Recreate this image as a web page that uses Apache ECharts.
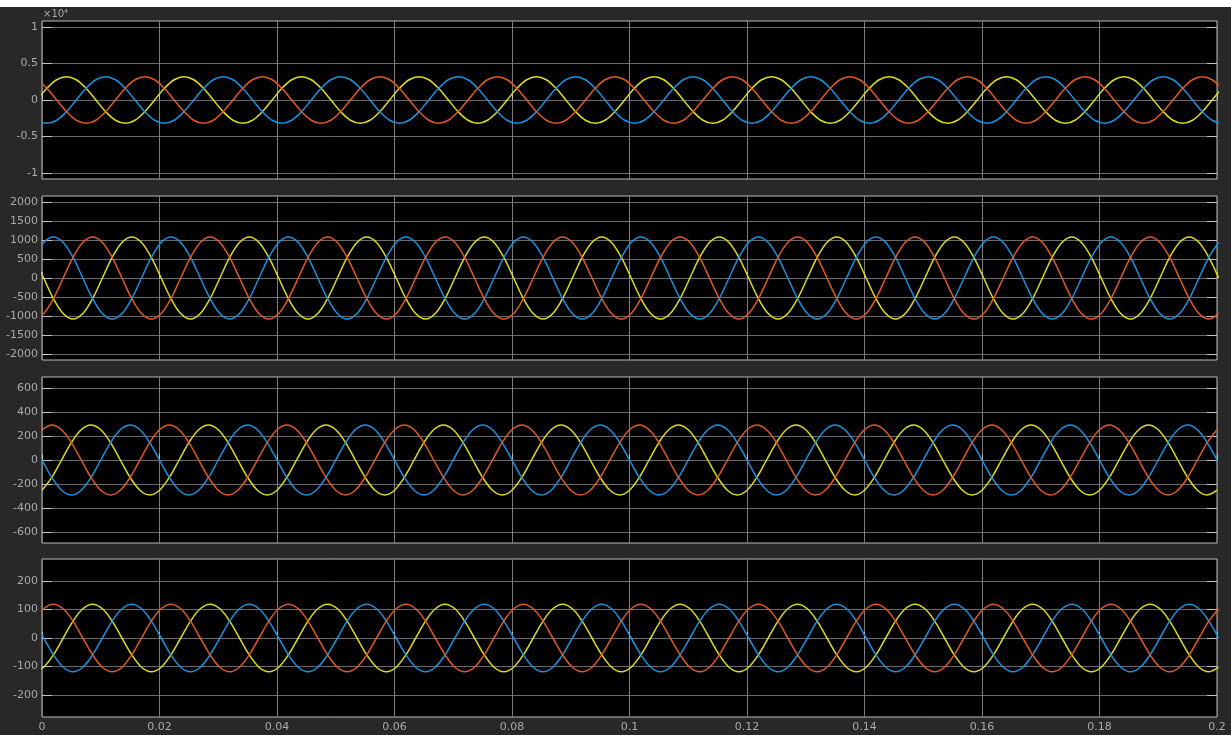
<!DOCTYPE html>
<html>
<head>
<meta charset="utf-8">
<script src="https://cdn.jsdelivr.net/npm/echarts@6/dist/echarts.min.js"></script>
<style>
  html, body { margin: 0; padding: 0; background: #282828; }
  #chart { width: 1231px; height: 735px; }
</style>
</head>
<body>
<div id="chart"></div>
<script>
// sample times (s), 12 samples per 50 Hz cycle, one set per panel
const timeA = [
  -0.00083,
  0.00083, 0.0025, 0.00417, 0.00583, 0.0075, 0.00917, 0.01083, 0.0125, 0.01417, 0.01583, 0.0175, 0.01917,
  0.02083, 0.0225, 0.02417, 0.02583, 0.0275, 0.02917, 0.03083, 0.0325, 0.03417, 0.03583, 0.0375, 0.03917,
  0.04083, 0.0425, 0.04417, 0.04583, 0.0475, 0.04917, 0.05083, 0.0525, 0.05417, 0.05583, 0.0575, 0.05917,
  0.06083, 0.0625, 0.06417, 0.06583, 0.0675, 0.06917, 0.07083, 0.0725, 0.07417, 0.07583, 0.0775, 0.07917,
  0.08083, 0.0825, 0.08417, 0.08583, 0.0875, 0.08917, 0.09083, 0.0925, 0.09417, 0.09583, 0.0975, 0.09917,
  0.10083, 0.1025, 0.10417, 0.10583, 0.1075, 0.10917, 0.11083, 0.1125, 0.11417, 0.11583, 0.1175, 0.11917,
  0.12083, 0.1225, 0.12417, 0.12583, 0.1275, 0.12917, 0.13083, 0.1325, 0.13417, 0.13583, 0.1375, 0.13917,
  0.14083, 0.1425, 0.14417, 0.14583, 0.1475, 0.14917, 0.15083, 0.1525, 0.15417, 0.15583, 0.1575, 0.15917,
  0.16083, 0.1625, 0.16417, 0.16583, 0.1675, 0.16917, 0.17083, 0.1725, 0.17417, 0.17583, 0.1775, 0.17917,
  0.18083, 0.1825, 0.18417, 0.18583, 0.1875, 0.18917, 0.19083, 0.1925, 0.19417, 0.19583, 0.1975, 0.19917,
  0.20083
];
const timeB = [
  -0.00139,
  0.00028, 0.00194, 0.00361, 0.00528, 0.00694, 0.00861, 0.01028, 0.01194, 0.01361, 0.01528, 0.01694, 0.01861,
  0.02028, 0.02194, 0.02361, 0.02528, 0.02694, 0.02861, 0.03028, 0.03194, 0.03361, 0.03528, 0.03694, 0.03861,
  0.04028, 0.04194, 0.04361, 0.04528, 0.04694, 0.04861, 0.05028, 0.05194, 0.05361, 0.05528, 0.05694, 0.05861,
  0.06028, 0.06194, 0.06361, 0.06528, 0.06694, 0.06861, 0.07028, 0.07194, 0.07361, 0.07528, 0.07694, 0.07861,
  0.08028, 0.08194, 0.08361, 0.08528, 0.08694, 0.08861, 0.09028, 0.09194, 0.09361, 0.09528, 0.09694, 0.09861,
  0.10028, 0.10194, 0.10361, 0.10528, 0.10694, 0.10861, 0.11028, 0.11194, 0.11361, 0.11528, 0.11694, 0.11861,
  0.12028, 0.12194, 0.12361, 0.12528, 0.12694, 0.12861, 0.13028, 0.13194, 0.13361, 0.13528, 0.13694, 0.13861,
  0.14028, 0.14194, 0.14361, 0.14528, 0.14694, 0.14861, 0.15028, 0.15194, 0.15361, 0.15528, 0.15694, 0.15861,
  0.16028, 0.16194, 0.16361, 0.16528, 0.16694, 0.16861, 0.17028, 0.17194, 0.17361, 0.17528, 0.17694, 0.17861,
  0.18028, 0.18194, 0.18361, 0.18528, 0.18694, 0.18861, 0.19028, 0.19194, 0.19361, 0.19528, 0.19694, 0.19861,
  0.20028
];
const timeC = [
  0, 0.00167, 0.00333, 0.005, 0.00667, 0.00833, 0.01, 0.01167, 0.01333, 0.015, 0.01667, 0.01833,
  0.02, 0.02167, 0.02333, 0.025, 0.02667, 0.02833, 0.03, 0.03167, 0.03333, 0.035, 0.03667, 0.03833,
  0.04, 0.04167, 0.04333, 0.045, 0.04667, 0.04833, 0.05, 0.05167, 0.05333, 0.055, 0.05667, 0.05833,
  0.06, 0.06167, 0.06333, 0.065, 0.06667, 0.06833, 0.07, 0.07167, 0.07333, 0.075, 0.07667, 0.07833,
  0.08, 0.08167, 0.08333, 0.085, 0.08667, 0.08833, 0.09, 0.09167, 0.09333, 0.095, 0.09667, 0.09833,
  0.1, 0.10167, 0.10333, 0.105, 0.10667, 0.10833, 0.11, 0.11167, 0.11333, 0.115, 0.11667, 0.11833,
  0.12, 0.12167, 0.12333, 0.125, 0.12667, 0.12833, 0.13, 0.13167, 0.13333, 0.135, 0.13667, 0.13833,
  0.14, 0.14167, 0.14333, 0.145, 0.14667, 0.14833, 0.15, 0.15167, 0.15333, 0.155, 0.15667, 0.15833,
  0.16, 0.16167, 0.16333, 0.165, 0.16667, 0.16833, 0.17, 0.17167, 0.17333, 0.175, 0.17667, 0.17833,
  0.18, 0.18167, 0.18333, 0.185, 0.18667, 0.18833, 0.19, 0.19167, 0.19333, 0.195, 0.19667, 0.19833,
  0.2
];

// panel 1 (x10^4), sampled at timeA
const p1Yellow = [
  0,
  1600, 2771, 3200, 2771, 1600, 0, -1600, -2771, -3200, -2771, -1600, 0,
  1600, 2771, 3200, 2771, 1600, 0, -1600, -2771, -3200, -2771, -1600, 0,
  1600, 2771, 3200, 2771, 1600, 0, -1600, -2771, -3200, -2771, -1600, 0,
  1600, 2771, 3200, 2771, 1600, 0, -1600, -2771, -3200, -2771, -1600, 0,
  1600, 2771, 3200, 2771, 1600, 0, -1600, -2771, -3200, -2771, -1600, 0,
  1600, 2771, 3200, 2771, 1600, 0, -1600, -2771, -3200, -2771, -1600, 0,
  1600, 2771, 3200, 2771, 1600, 0, -1600, -2771, -3200, -2771, -1600, 0,
  1600, 2771, 3200, 2771, 1600, 0, -1600, -2771, -3200, -2771, -1600, 0,
  1600, 2771, 3200, 2771, 1600, 0, -1600, -2771, -3200, -2771, -1600, 0,
  1600, 2771, 3200, 2771, 1600, 0, -1600, -2771, -3200, -2771, -1600, 0,
  1600
];
const p1Blue = [
  -2771,
  -3200, -2771, -1600, 0, 1600, 2771, 3200, 2771, 1600, 0, -1600, -2771,
  -3200, -2771, -1600, 0, 1600, 2771, 3200, 2771, 1600, 0, -1600, -2771,
  -3200, -2771, -1600, 0, 1600, 2771, 3200, 2771, 1600, 0, -1600, -2771,
  -3200, -2771, -1600, 0, 1600, 2771, 3200, 2771, 1600, 0, -1600, -2771,
  -3200, -2771, -1600, 0, 1600, 2771, 3200, 2771, 1600, 0, -1600, -2771,
  -3200, -2771, -1600, 0, 1600, 2771, 3200, 2771, 1600, 0, -1600, -2771,
  -3200, -2771, -1600, 0, 1600, 2771, 3200, 2771, 1600, 0, -1600, -2771,
  -3200, -2771, -1600, 0, 1600, 2771, 3200, 2771, 1600, 0, -1600, -2771,
  -3200, -2771, -1600, 0, 1600, 2771, 3200, 2771, 1600, 0, -1600, -2771,
  -3200, -2771, -1600, 0, 1600, 2771, 3200, 2771, 1600, 0, -1600, -2771,
  -3200
];
const p1Red = [
  2771,
  1600, 0, -1600, -2771, -3200, -2771, -1600, 0, 1600, 2771, 3200, 2771,
  1600, 0, -1600, -2771, -3200, -2771, -1600, 0, 1600, 2771, 3200, 2771,
  1600, 0, -1600, -2771, -3200, -2771, -1600, 0, 1600, 2771, 3200, 2771,
  1600, 0, -1600, -2771, -3200, -2771, -1600, 0, 1600, 2771, 3200, 2771,
  1600, 0, -1600, -2771, -3200, -2771, -1600, 0, 1600, 2771, 3200, 2771,
  1600, 0, -1600, -2771, -3200, -2771, -1600, 0, 1600, 2771, 3200, 2771,
  1600, 0, -1600, -2771, -3200, -2771, -1600, 0, 1600, 2771, 3200, 2771,
  1600, 0, -1600, -2771, -3200, -2771, -1600, 0, 1600, 2771, 3200, 2771,
  1600, 0, -1600, -2771, -3200, -2771, -1600, 0, 1600, 2771, 3200, 2771,
  1600, 0, -1600, -2771, -3200, -2771, -1600, 0, 1600, 2771, 3200, 2771,
  1600
];

// panel 2, sampled at timeB
const p2Yellow = [
  540,
  0, -540, -935, -1080, -935, -540, 0, 540, 935, 1080, 935, 540,
  0, -540, -935, -1080, -935, -540, 0, 540, 935, 1080, 935, 540,
  0, -540, -935, -1080, -935, -540, 0, 540, 935, 1080, 935, 540,
  0, -540, -935, -1080, -935, -540, 0, 540, 935, 1080, 935, 540,
  0, -540, -935, -1080, -935, -540, 0, 540, 935, 1080, 935, 540,
  0, -540, -935, -1080, -935, -540, 0, 540, 935, 1080, 935, 540,
  0, -540, -935, -1080, -935, -540, 0, 540, 935, 1080, 935, 540,
  0, -540, -935, -1080, -935, -540, 0, 540, 935, 1080, 935, 540,
  0, -540, -935, -1080, -935, -540, 0, 540, 935, 1080, 935, 540,
  0, -540, -935, -1080, -935, -540, 0, 540, 935, 1080, 935, 540,
  0
];
const p2Blue = [
  540,
  935, 1080, 935, 540, 0, -540, -935, -1080, -935, -540, 0, 540,
  935, 1080, 935, 540, 0, -540, -935, -1080, -935, -540, 0, 540,
  935, 1080, 935, 540, 0, -540, -935, -1080, -935, -540, 0, 540,
  935, 1080, 935, 540, 0, -540, -935, -1080, -935, -540, 0, 540,
  935, 1080, 935, 540, 0, -540, -935, -1080, -935, -540, 0, 540,
  935, 1080, 935, 540, 0, -540, -935, -1080, -935, -540, 0, 540,
  935, 1080, 935, 540, 0, -540, -935, -1080, -935, -540, 0, 540,
  935, 1080, 935, 540, 0, -540, -935, -1080, -935, -540, 0, 540,
  935, 1080, 935, 540, 0, -540, -935, -1080, -935, -540, 0, 540,
  935, 1080, 935, 540, 0, -540, -935, -1080, -935, -540, 0, 540,
  935
];
const p2Red = [
  -1080,
  -935, -540, 0, 540, 935, 1080, 935, 540, 0, -540, -935, -1080,
  -935, -540, 0, 540, 935, 1080, 935, 540, 0, -540, -935, -1080,
  -935, -540, 0, 540, 935, 1080, 935, 540, 0, -540, -935, -1080,
  -935, -540, 0, 540, 935, 1080, 935, 540, 0, -540, -935, -1080,
  -935, -540, 0, 540, 935, 1080, 935, 540, 0, -540, -935, -1080,
  -935, -540, 0, 540, 935, 1080, 935, 540, 0, -540, -935, -1080,
  -935, -540, 0, 540, 935, 1080, 935, 540, 0, -540, -935, -1080,
  -935, -540, 0, 540, 935, 1080, 935, 540, 0, -540, -935, -1080,
  -935, -540, 0, 540, 935, 1080, 935, 540, 0, -540, -935, -1080,
  -935, -540, 0, 540, 935, 1080, 935, 540, 0, -540, -935, -1080,
  -935
];

// panel 3, sampled at timeC
const p3Yellow = [
  -251, -145, 0, 145, 251, 290, 251, 145, 0, -145, -251, -290,
  -251, -145, 0, 145, 251, 290, 251, 145, 0, -145, -251, -290,
  -251, -145, 0, 145, 251, 290, 251, 145, 0, -145, -251, -290,
  -251, -145, 0, 145, 251, 290, 251, 145, 0, -145, -251, -290,
  -251, -145, 0, 145, 251, 290, 251, 145, 0, -145, -251, -290,
  -251, -145, 0, 145, 251, 290, 251, 145, 0, -145, -251, -290,
  -251, -145, 0, 145, 251, 290, 251, 145, 0, -145, -251, -290,
  -251, -145, 0, 145, 251, 290, 251, 145, 0, -145, -251, -290,
  -251, -145, 0, 145, 251, 290, 251, 145, 0, -145, -251, -290,
  -251, -145, 0, 145, 251, 290, 251, 145, 0, -145, -251, -290,
  -251
];
const p3Blue = [
  0, -145, -251, -290, -251, -145, 0, 145, 251, 290, 251, 145,
  0, -145, -251, -290, -251, -145, 0, 145, 251, 290, 251, 145,
  0, -145, -251, -290, -251, -145, 0, 145, 251, 290, 251, 145,
  0, -145, -251, -290, -251, -145, 0, 145, 251, 290, 251, 145,
  0, -145, -251, -290, -251, -145, 0, 145, 251, 290, 251, 145,
  0, -145, -251, -290, -251, -145, 0, 145, 251, 290, 251, 145,
  0, -145, -251, -290, -251, -145, 0, 145, 251, 290, 251, 145,
  0, -145, -251, -290, -251, -145, 0, 145, 251, 290, 251, 145,
  0, -145, -251, -290, -251, -145, 0, 145, 251, 290, 251, 145,
  0, -145, -251, -290, -251, -145, 0, 145, 251, 290, 251, 145,
  0
];
const p3Red = [
  251, 290, 251, 145, 0, -145, -251, -290, -251, -145, 0, 145,
  251, 290, 251, 145, 0, -145, -251, -290, -251, -145, 0, 145,
  251, 290, 251, 145, 0, -145, -251, -290, -251, -145, 0, 145,
  251, 290, 251, 145, 0, -145, -251, -290, -251, -145, 0, 145,
  251, 290, 251, 145, 0, -145, -251, -290, -251, -145, 0, 145,
  251, 290, 251, 145, 0, -145, -251, -290, -251, -145, 0, 145,
  251, 290, 251, 145, 0, -145, -251, -290, -251, -145, 0, 145,
  251, 290, 251, 145, 0, -145, -251, -290, -251, -145, 0, 145,
  251, 290, 251, 145, 0, -145, -251, -290, -251, -145, 0, 145,
  251, 290, 251, 145, 0, -145, -251, -290, -251, -145, 0, 145,
  251
];

// panel 4, sampled at timeB
const p4Yellow = [
  -118,
  -102, -59, 0, 59, 102, 118, 102, 59, 0, -59, -102, -118,
  -102, -59, 0, 59, 102, 118, 102, 59, 0, -59, -102, -118,
  -102, -59, 0, 59, 102, 118, 102, 59, 0, -59, -102, -118,
  -102, -59, 0, 59, 102, 118, 102, 59, 0, -59, -102, -118,
  -102, -59, 0, 59, 102, 118, 102, 59, 0, -59, -102, -118,
  -102, -59, 0, 59, 102, 118, 102, 59, 0, -59, -102, -118,
  -102, -59, 0, 59, 102, 118, 102, 59, 0, -59, -102, -118,
  -102, -59, 0, 59, 102, 118, 102, 59, 0, -59, -102, -118,
  -102, -59, 0, 59, 102, 118, 102, 59, 0, -59, -102, -118,
  -102, -59, 0, 59, 102, 118, 102, 59, 0, -59, -102, -118,
  -102
];
const p4Blue = [
  59,
  0, -59, -102, -118, -102, -59, 0, 59, 102, 118, 102, 59,
  0, -59, -102, -118, -102, -59, 0, 59, 102, 118, 102, 59,
  0, -59, -102, -118, -102, -59, 0, 59, 102, 118, 102, 59,
  0, -59, -102, -118, -102, -59, 0, 59, 102, 118, 102, 59,
  0, -59, -102, -118, -102, -59, 0, 59, 102, 118, 102, 59,
  0, -59, -102, -118, -102, -59, 0, 59, 102, 118, 102, 59,
  0, -59, -102, -118, -102, -59, 0, 59, 102, 118, 102, 59,
  0, -59, -102, -118, -102, -59, 0, 59, 102, 118, 102, 59,
  0, -59, -102, -118, -102, -59, 0, 59, 102, 118, 102, 59,
  0, -59, -102, -118, -102, -59, 0, 59, 102, 118, 102, 59,
  0
];
const p4Red = [
  59,
  102, 118, 102, 59, 0, -59, -102, -118, -102, -59, 0, 59,
  102, 118, 102, 59, 0, -59, -102, -118, -102, -59, 0, 59,
  102, 118, 102, 59, 0, -59, -102, -118, -102, -59, 0, 59,
  102, 118, 102, 59, 0, -59, -102, -118, -102, -59, 0, 59,
  102, 118, 102, 59, 0, -59, -102, -118, -102, -59, 0, 59,
  102, 118, 102, 59, 0, -59, -102, -118, -102, -59, 0, 59,
  102, 118, 102, 59, 0, -59, -102, -118, -102, -59, 0, 59,
  102, 118, 102, 59, 0, -59, -102, -118, -102, -59, 0, 59,
  102, 118, 102, 59, 0, -59, -102, -118, -102, -59, 0, 59,
  102, 118, 102, 59, 0, -59, -102, -118, -102, -59, 0, 59,
  102
];

// y tick values for each panel
const p1Ticks = [-10000, -5000, 0, 5000, 10000];
const p2Ticks = [-2000, -1500, -1000, -500, 0, 500, 1000, 1500, 2000];
const p3Ticks = [-600, -400, -200, 0, 200, 400, 600];
const p4Ticks = [-200, -100, 0, 100, 200];
const yLimits = [10820, 2155, 690, 276];

const panelTimes = [timeA, timeB, timeC, timeB];
const panelSeries = [
  [p1Yellow, p1Blue, p1Red],
  [p2Yellow, p2Blue, p2Red],
  [p3Yellow, p3Blue, p3Red],
  [p4Yellow, p4Blue, p4Red]
];
const panelTicks = [p1Ticks, p2Ticks, p3Ticks, p4Ticks];

const gridTops = [21, 196, 377, 559];
const gridHeights = [158, 164, 166, 158];
const lineColors = ["#dcdc1e", "#1892e0", "#de5a22"];
const labelColor = "#a9a9a9";
const labelFont = "DejaVu Sans";

const grids = gridTops.map((top, i) => ({
  left: 42,
  top: top,
  width: 1175,
  height: gridHeights[i],
  show: true,
  backgroundColor: "#000000",
  borderColor: "#bdbdbd",
  borderWidth: 1,
}));

const xAxes = gridTops.map((_, i) => ({
  type: "value",
  gridIndex: i,
  min: 0,
  max: 0.2,
  interval: 0.02,
  axisLine: { show: false },
  axisTick: { show: true, inside: true, length: 6, lineStyle: { color: "#bdbdbd" } },
  axisLabel: {
    show: i === 3,
    color: labelColor,
    fontFamily: labelFont,
    fontSize: 11,
    margin: 5,
    formatter: (v) => String(+v.toFixed(2)),
  },
  splitLine: { show: true, lineStyle: { color: "#7c7c7c", width: 1 } },
}));

const leftAxes = panelTicks.map((ticks, i) => ({
  type: "value",
  gridIndex: i,
  min: -yLimits[i],
  max: yLimits[i],
  axisLine: { show: false },
  axisTick: {
    show: true,
    inside: true,
    length: 10,
    customValues: ticks,
    lineStyle: { color: "#c4c4c4" },
  },
  axisLabel: {
    customValues: ticks,
    color: labelColor,
    fontFamily: labelFont,
    fontSize: 11,
    margin: 4,
    formatter: (v) => (i === 0 ? String(v / 10000) : String(v)),
  },
  splitLine: { show: true, lineStyle: { color: "#6a6a6a", width: 1 } },
}));

const rightAxes = panelTicks.map((ticks, i) => ({
  type: "value",
  gridIndex: i,
  position: "right",
  min: -yLimits[i],
  max: yLimits[i],
  axisLine: { show: false },
  axisTick: {
    show: true,
    inside: true,
    length: 10,
    customValues: ticks,
    lineStyle: { color: "#c4c4c4" },
  },
  axisLabel: { show: false },
  splitLine: { show: false },
}));

const series = [];
panelSeries.forEach((group, i) => {
  const t = panelTimes[i];
  group.forEach((values, j) => {
    series.push({
      type: "line",
      xAxisIndex: i,
      yAxisIndex: i,
      data: values.map((v, k) => [t[k], v]),
      showSymbol: false,
      smooth: 0.35,
      clip: true,
      lineStyle: { color: lineColors[j], width: 1.5 },
      z: 3 + j,
    });
  });
});

const chart = echarts.init(document.getElementById("chart"));
chart.setOption({
  animation: false,
  backgroundColor: "#282828",
  grid: grids,
  xAxis: xAxes,
  yAxis: leftAxes.concat(rightAxes),
  series: series,
  graphic: [
    {
      type: "rect",
      left: 0,
      top: 0,
      shape: { width: 1231, height: 7 },
      style: { fill: "#ffffff" },
    },
    {
      type: "text",
      left: 43,
      top: 9,
      style: { text: "×10⁴", fill: labelColor, font: "10px DejaVu Sans" },
    },
  ],
});
</script>
</body>
</html>
